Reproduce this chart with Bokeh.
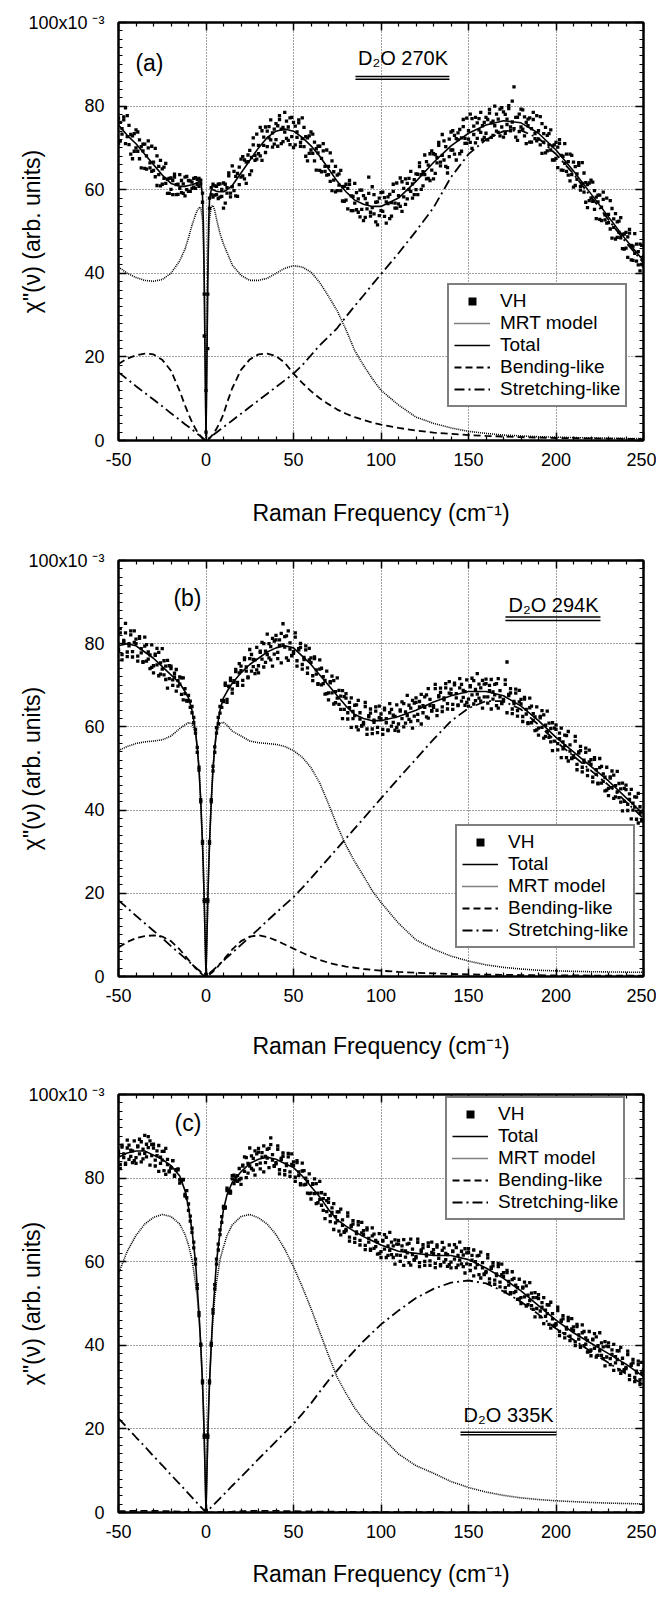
from bokeh.plotting import figure
from bokeh.models import Legend, LegendItem, Label, FixedTicker, LinearAxis, Range1d
from bokeh.layouts import column
from bokeh.embed import file_html
from bokeh.resources import INLINE

FONT = "Liberation Sans"

# ---------------- data ----------------
X_TICKS = [-50, 0, 50, 100, 150, 200, 250]
X_TICK_LABELS = ["-50", "0", "50", "100", "150", "200", "250"]
X_MINOR = [-40, -30, -20, -10, 10, 20, 30, 40, 60, 70, 80, 90, 110, 120, 130, 140,
           160, 170, 180, 190, 210, 220, 230, 240]
Y_TICKS = [0, 20, 40, 60, 80, 100]
Y_TICK_LABELS = ["0", "20", "40", "60", "80", "100x10\u00a0\u207b\u00b3"]
Y_MINOR = [2, 4, 6, 8, 10, 12, 14, 16, 18, 22, 24, 26, 28, 30, 32, 34, 36, 38,
           42, 44, 46, 48, 50, 52, 54, 56, 58, 62, 64, 66, 68, 70, 72, 74, 76, 78,
           82, 84, 86, 88, 90, 92, 94, 96, 98]

VH_X = [-50, -49, -48, -47, -46, -45, -44, -43, -42, -41,
        -40, -39, -38, -37, -36, -35, -34, -33, -32, -31,
        -30, -29, -28, -27, -26, -25, -24, -23, -22, -21,
        -20, -19, -18, -17, -16, -15, -14, -13, -12, -11,
        -10, -9, -8, -7, -6, -5, -4, -3, -2, -1,
        0, 1, 2, 3, 4, 5, 6, 7, 8, 9,
        10, 11, 12, 13, 14, 15, 16, 17, 18, 19,
        20, 21, 22, 23, 24, 25, 26, 27, 28, 29,
        30, 31, 32, 33, 34, 35, 36, 37, 38, 39,
        40, 41, 42, 43, 44, 45, 46, 47, 48, 49,
        50, 51, 52, 53, 54, 55, 56, 57, 58, 59,
        60, 61, 62, 63, 64, 65, 66, 67, 68, 69,
        70, 71, 72, 73, 74, 75, 76, 77, 78, 79,
        80, 81, 82, 83, 84, 85, 86, 87, 88, 89,
        90, 91, 92, 93, 94, 95, 96, 97, 98, 99,
        100, 101, 102, 103, 104, 105, 106, 107, 108, 109,
        110, 111, 112, 113, 114, 115, 116, 117, 118, 119,
        120, 121, 122, 123, 124, 125, 126, 127, 128, 129,
        130, 131, 132, 133, 134, 135, 136, 137, 138, 139,
        140, 141, 142, 143, 144, 145, 146, 147, 148, 149,
        150, 151, 152, 153, 154, 155, 156, 157, 158, 159,
        160, 161, 162, 163, 164, 165, 166, 167, 168, 169,
        170, 171, 172, 173, 174, 175, 176, 177, 178, 179,
        180, 181, 182, 183, 184, 185, 186, 187, 188, 189,
        190, 191, 192, 193, 194, 195, 196, 197, 198, 199,
        200, 201, 202, 203, 204, 205, 206, 207, 208, 209,
        210, 211, 212, 213, 214, 215, 216, 217, 218, 219,
        220, 221, 222, 223, 224, 225, 226, 227, 228, 229,
        230, 231, 232, 233, 234, 235, 236, 237, 238, 239,
        240, 241, 242, 243, 244, 245, 246, 247, 248, 249,
        250]

VH_A = [77.1, 71.6, 74.6, 77.4, 79.6, 72.7, 75.4, 68.5, 72.9, 69.2,
        70.0, 73.8, 67.4, 70.3, 70.9, 65.1, 68.1, 70.0, 65.2, 70.4,
        66.6, 63.1, 68.1, 63.6, 60.9, 65.0, 65.4, 61.5, 62.5, 59.1,
        60.1, 62.2, 63.7, 58.8, 61.3, 60.3, 62.2, 59.1, 63.0, 60.0,
        62.2, 59.6, 61.8, 60.6, 62.9, 61.3, 62.7, 62.3, 57.0, 35.0,
        2.0, 35.0, 58.0, 60.5, 58.2, 60.9, 58.8, 61.3, 58.2, 60.1,
        61.6, 56.8, 60.5, 64.0, 59.2, 60.7, 64.4, 58.5, 63.9, 61.2,
        63.0, 67.9, 62.6, 66.6, 68.3, 63.6, 67.7, 70.7, 67.0, 73.3,
        70.6, 68.1, 74.1, 70.6, 68.9, 74.0, 75.1, 71.9, 73.6, 70.9,
        72.0, 75.3, 77.7, 71.0, 74.9, 73.8, 76.4, 71.8, 77.2, 72.7,
        76.1, 70.7, 73.8, 76.7, 71.3, 72.2, 74.9, 68.0, 72.4, 68.7,
        69.5, 73.3, 66.9, 69.8, 70.4, 64.6, 67.5, 69.3, 64.4, 69.5,
        65.6, 62.0, 66.9, 62.3, 59.5, 63.5, 63.8, 59.8, 60.7, 57.2,
        57.5, 60.3, 62.2, 55.0, 58.4, 56.8, 59.3, 54.6, 59.9, 55.3,
        58.6, 53.4, 56.7, 63.0, 54.6, 55.7, 58.8, 52.3, 57.1, 53.8,
        55.0, 59.4, 53.6, 57.1, 58.3, 53.1, 56.9, 59.6, 55.6, 61.6,
        58.6, 56.0, 61.9, 58.3, 56.5, 61.5, 62.7, 59.6, 61.4, 58.8,
        60.0, 63.7, 66.4, 60.1, 64.3, 63.6, 66.7, 62.7, 68.6, 64.7,
        68.6, 63.9, 67.7, 71.3, 66.6, 68.2, 71.7, 65.6, 64.0, 67.9,
        69.5, 74.1, 68.5, 72.2, 73.6, 68.6, 72.4, 75.1, 71.1, 77.1,
        74.1, 71.3, 77.0, 73.2, 71.2, 76.0, 77.0, 73.7, 75.3, 72.5,
        73.5, 76.8, 79.2, 72.5, 76.4, 75.3, 78.1, 73.7, 79.3, 75.0,
        78.6, 73.5, 76.9, 80.1, 75.0, 76.2, 84.6, 72.6, 77.3, 73.9,
        75.0, 79.1, 72.9, 76.1, 76.9, 71.4, 74.6, 76.8, 72.2, 77.7,
        74.1, 70.7, 75.8, 71.4, 68.8, 73.0, 73.4, 69.5, 70.5, 67.1,
        67.5, 70.2, 72.0, 64.7, 68.0, 66.3, 68.5, 63.5, 68.5, 63.6,
        66.6, 61.0, 63.8, 66.5, 60.8, 61.5, 64.0, 57.0, 61.2, 57.4,
        58.0, 61.8, 55.3, 58.2, 58.7, 52.9, 55.8, 57.7, 52.8, 58.0,
        54.1, 50.6, 55.5, 51.0, 48.2, 52.3, 52.5, 48.5, 49.3, 45.8,
        46.0, 48.7, 50.5, 43.2, 46.5, 44.8, 47.0, 42.0, 47.0, 42.1,
        43.9]
VH_A2 = [71.1, 76.1, 73.3, 76.7, 71.0, 77.7, 70.8, 73.2, 67.4, 73.4,
         74.3, 69.2, 71.9, 65.2, 69.3, 70.9, 64.9, 71.7, 66.4, 64.4,
         64.6, 69.9, 61.0, 65.6, 67.0, 61.3, 62.7, 66.3, 59.1, 62.7,
         62.8, 58.8, 63.0, 61.2, 58.9, 63.6, 59.3, 61.4, 58.5, 63.2,
         59.6, 62.1, 60.3, 62.7, 60.3, 62.5, 60.8, 61.4, 59.2, 25.0,
         12.0, 22.0, 55.5, 58.8, 61.3, 58.7, 60.8, 57.9, 61.4, 58.4,
         55.6, 61.3, 59.2, 63.3, 58.3, 65.7, 59.8, 63.2, 58.4, 65.4,
         67.3, 63.3, 67.1, 61.5, 66.7, 69.4, 64.5, 72.4, 68.2, 67.3,
         68.6, 74.9, 67.0, 72.6, 75.0, 70.3, 72.4, 76.7, 70.2, 74.5,
         75.8, 70.4, 76.8, 74.5, 71.5, 78.5, 72.3, 75.0, 70.8, 77.3,
         70.1, 75.2, 72.5, 76.0, 70.4, 77.2, 70.3, 72.7, 66.9, 72.9,
         73.8, 68.7, 71.4, 64.7, 68.8, 70.4, 64.3, 71.0, 65.6, 63.5,
         63.6, 68.8, 59.8, 64.3, 65.6, 59.8, 61.1, 64.6, 57.3, 60.8,
         61.3, 55.4, 61.3, 58.5, 55.0, 61.5, 55.2, 57.8, 53.5, 59.9,
         52.6, 57.9, 55.4, 59.1, 53.7, 60.7, 54.2, 57.0, 51.6, 58.0,
         59.3, 54.8, 58.1, 52.0, 56.7, 58.9, 53.7, 61.3, 56.8, 55.6,
         56.6, 62.8, 54.8, 60.3, 62.6, 57.8, 60.0, 64.4, 58.0, 62.4,
         63.8, 58.8, 65.5, 63.6, 60.9, 68.3, 62.6, 65.9, 62.2, 69.3,
         62.6, 68.4, 66.4, 70.6, 65.7, 73.2, 67.1, 70.3, 65.3, 72.1,
         73.8, 69.5, 73.0, 67.1, 72.0, 74.4, 69.2, 76.8, 72.3, 71.1,
         72.1, 78.1, 69.9, 75.2, 77.3, 72.3, 74.3, 78.5, 71.9, 76.1,
         77.3, 71.9, 78.3, 76.0, 73.0, 80.0, 74.0, 76.9, 72.9, 79.6,
         72.6, 78.0, 75.6, 79.4, 74.1, 81.2, 74.6, 77.3, 71.8, 78.1,
         79.3, 74.5, 77.4, 71.0, 75.3, 77.2, 71.4, 78.5, 73.4, 71.7,
         72.1, 77.5, 68.7, 73.4, 74.9, 69.3, 70.7, 74.3, 67.1, 70.7,
         71.3, 65.3, 71.1, 68.2, 64.6, 71.0, 64.4, 66.7, 62.1, 68.2,
         60.6, 65.5, 62.5, 65.8, 59.9, 66.5, 59.4, 61.7, 55.7, 61.6,
         62.3, 57.2, 59.8, 53.1, 57.1, 58.7, 52.6, 59.4, 54.0, 52.0,
         52.1, 57.4, 48.4, 53.0, 54.3, 48.6, 49.8, 53.3, 45.9, 49.4,
         49.8, 43.8, 49.6, 46.7, 43.1, 49.5, 42.9, 45.2, 40.6, 46.7,
         41.8]

VH_B = [78.6, 82.6, 77.4, 80.5, 84.9, 76.9, 80.0, 82.1, 78.1, 83.1,
        80.0, 77.0, 81.7, 77.8, 75.5, 79.4, 79.8, 76.3, 77.3, 74.3,
        74.7, 77.2, 78.9, 72.3, 75.4, 73.9, 75.9, 71.4, 76.0, 71.6,
        74.0, 70.0, 72.0, 73.8, 69.8, 70.3, 71.8, 66.5, 69.2, 66.2,
        67.6, 64.7, 64.9, 61.0, 59.4, 53.9, 50.3, 42.0, 32.0, 18.0,
        0.5, 18.0, 32.0, 42.0, 50.5, 53.9, 59.8, 60.8, 64.9, 64.7,
        66.3, 70.0, 66.6, 69.7, 71.1, 68.1, 71.1, 73.3, 70.7, 75.2,
        73.5, 71.2, 76.6, 73.4, 71.8, 76.4, 77.4, 74.5, 76.1, 73.7,
        74.7, 77.9, 80.3, 74.4, 78.2, 77.4, 80.0, 76.1, 81.3, 77.5,
        80.9, 76.4, 79.6, 82.5, 84.8, 79.2, 81.9, 76.0, 80.2, 77.1,
        78.1, 81.6, 75.9, 78.5, 79.1, 73.9, 76.7, 78.5, 74.2, 78.9,
        75.5, 72.3, 76.8, 72.7, 70.2, 73.9, 74.1, 70.4, 71.2, 68.0,
        68.2, 70.6, 72.2, 65.5, 68.5, 66.9, 68.8, 64.2, 68.7, 64.2,
        66.9, 61.9, 64.6, 67.0, 62.0, 62.7, 65.3, 59.3, 63.4, 60.2,
        61.1, 64.9, 59.5, 62.4, 63.3, 58.4, 61.6, 63.8, 59.9, 65.0,
        62.0, 59.4, 64.5, 61.0, 59.1, 63.4, 64.2, 61.1, 62.5, 59.9,
        60.7, 63.8, 66.0, 60.0, 63.6, 62.7, 65.2, 61.3, 66.4, 62.6,
        65.9, 61.5, 64.8, 67.8, 63.4, 64.7, 67.7, 62.1, 66.6, 63.8,
        65.1, 69.2, 64.0, 67.2, 68.3, 63.7, 67.0, 69.4, 65.6, 70.9,
        68.0, 65.4, 70.5, 67.0, 65.1, 69.4, 70.2, 67.1, 68.5, 65.9,
        66.7, 69.6, 71.7, 65.5, 69.0, 67.9, 70.3, 66.2, 71.2, 67.2,
        70.4, 65.7, 68.7, 71.4, 66.7, 67.7, 70.4, 64.5, 68.7, 65.6,
        66.6, 70.2, 75.6, 67.5, 68.2, 63.2, 66.1, 68.1, 63.9, 68.8,
        65.5, 62.5, 67.1, 63.1, 60.8, 64.6, 65.0, 61.5, 62.4, 59.3,
        59.7, 62.2, 63.9, 57.3, 60.4, 58.9, 60.9, 56.4, 61.0, 56.6,
        59.4, 54.5, 57.2, 59.7, 54.7, 55.5, 57.9, 51.8, 55.7, 52.4,
        53.1, 56.6, 51.0, 53.7, 54.3, 49.2, 52.0, 53.9, 49.6, 54.4,
        51.0, 47.9, 52.6, 48.6, 46.3, 50.2, 50.5, 46.9, 47.9, 44.8,
        45.2, 47.7, 49.4, 42.8, 45.9, 44.4, 46.4, 41.9, 46.5, 42.1,
        44.9, 39.9, 42.6, 45.0, 40.0, 40.7, 43.1, 36.9, 40.8, 37.4,
        39.8]
VH_B2 = [78.2, 83.6, 76.1, 80.8, 82.6, 78.0, 79.5, 83.1, 76.8, 80.3,
         81.1, 75.8, 81.3, 78.8, 75.7, 81.6, 75.8, 78.0, 74.0, 79.7,
         73.0, 77.5, 74.9, 77.9, 72.7, 78.8, 72.5, 74.6, 69.3, 74.7,
         74.6, 71.3, 72.9, 68.6, 71.1, 72.0, 67.8, 71.8, 68.0, 66.4,
         66.2, 66.2, 63.4, 62.3, 58.5, 55.1, 49.6, 42.5, 32.5, 18.5,
         0.5, 18.5, 32.5, 42.5, 49.4, 55.2, 58.5, 62.3, 63.3, 66.4,
         66.1, 70.5, 65.9, 69.8, 71.7, 69.1, 70.7, 73.8, 70.0, 73.0,
         74.6, 70.0, 76.2, 74.4, 72.0, 78.6, 73.4, 76.2, 72.8, 79.1,
         73.0, 78.2, 76.3, 80.0, 75.5, 82.3, 76.6, 79.3, 74.6, 80.6,
         82.0, 77.9, 80.9, 75.4, 79.7, 81.7, 76.6, 83.1, 78.7, 77.2,
         77.7, 82.6, 74.6, 78.8, 80.1, 75.0, 76.2, 79.5, 72.9, 76.1,
         76.6, 71.1, 76.4, 73.7, 70.4, 76.1, 70.1, 72.1, 67.9, 73.4,
         66.5, 70.9, 68.2, 71.1, 65.8, 71.8, 65.4, 67.4, 62.0, 67.3,
         68.0, 63.4, 65.9, 59.9, 63.7, 65.2, 60.0, 66.4, 61.9, 60.3,
         60.7, 65.9, 58.2, 62.7, 64.3, 59.5, 61.1, 64.8, 58.6, 62.2,
         63.1, 58.2, 64.1, 62.0, 59.3, 65.6, 60.2, 62.8, 59.2, 65.3,
         59.0, 64.1, 62.0, 65.6, 60.9, 67.6, 61.8, 64.5, 59.7, 65.7,
         67.0, 63.0, 66.1, 60.7, 65.1, 67.2, 62.4, 69.2, 65.1, 63.9,
         64.7, 70.2, 62.7, 67.5, 69.3, 64.8, 66.5, 70.4, 64.3, 68.1,
         69.1, 64.2, 70.1, 68.0, 65.3, 71.6, 66.2, 68.8, 65.2, 71.3,
         65.0, 69.9, 67.7, 71.1, 66.3, 72.8, 66.9, 69.4, 64.5, 70.3,
         71.5, 67.2, 70.0, 64.3, 68.4, 70.2, 65.1, 71.6, 67.2, 65.7,
         66.2, 71.3, 63.4, 67.8, 69.2, 64.3, 65.6, 69.1, 62.6, 66.0,
         66.6, 61.3, 66.7, 64.2, 61.0, 66.9, 61.0, 63.2, 59.1, 64.8,
         58.0, 62.5, 59.9, 62.9, 57.7, 63.8, 57.5, 59.6, 54.3, 59.7,
         60.5, 56.0, 58.5, 52.6, 56.4, 58.0, 52.6, 58.9, 54.2, 52.5,
         52.7, 57.7, 49.7, 54.0, 55.3, 50.3, 51.5, 54.9, 48.3, 51.6,
         52.1, 46.8, 52.2, 49.7, 46.5, 52.4, 46.5, 48.7, 44.6, 50.3,
         43.5, 48.0, 45.4, 48.4, 43.2, 49.3, 43.0, 45.1, 39.8, 45.2,
         46.0, 41.4, 43.9, 37.9, 41.7, 43.2, 37.8, 44.0, 39.3, 37.5,
         37.6]

VH_C = [85.5, 83.3, 87.9, 84.9, 83.3, 87.2, 87.9, 85.2, 86.5, 84.2,
        84.9, 87.5, 89.3, 83.9, 86.9, 85.9, 88.1, 89.9, 88.9, 85.4,
        87.2, 82.9, 85.4, 87.8, 83.5, 84.3, 86.4, 80.9, 84.5, 81.5,
        82.5, 84.2, 80.7, 81.9, 82.0, 78.8, 79.6, 79.6, 76.1, 77.0,
        73.8, 69.7, 68.0, 63.3, 60.6, 53.6, 47.8, 40.0, 31.0, 18.0,
        0.5, 18.0, 31.0, 40.0, 47.7, 54.5, 59.4, 64.2, 66.5, 70.8,
        72.8, 73.1, 77.6, 76.5, 76.4, 79.8, 80.7, 79.4, 80.6, 79.6,
        79.9, 82.9, 85.1, 80.1, 83.5, 82.9, 85.3, 81.9, 86.5, 83.2,
        86.2, 82.2, 85.0, 87.7, 83.7, 84.8, 87.1, 89.6, 85.6, 82.8,
        83.7, 86.9, 82.0, 84.5, 85.2, 80.8, 83.4, 85.1, 81.5, 85.8,
        83.0, 80.2, 84.2, 80.6, 78.4, 81.7, 81.8, 78.5, 79.2, 76.3,
        76.4, 78.5, 79.8, 73.9, 76.4, 74.9, 76.5, 72.3, 76.1, 72.0,
        74.2, 69.6, 71.8, 73.9, 69.3, 69.8, 71.9, 66.4, 70.0, 67.0,
        67.7, 70.9, 65.9, 68.4, 69.0, 64.6, 67.1, 68.8, 65.1, 69.4,
        66.5, 63.9, 68.1, 64.7, 62.7, 66.2, 66.6, 63.6, 64.6, 62.0,
        62.4, 64.9, 66.5, 61.0, 63.8, 62.7, 64.7, 61.0, 65.2, 61.6,
        64.2, 60.1, 62.7, 65.3, 61.1, 62.1, 64.4, 59.2, 63.0, 60.3,
        61.2, 64.6, 59.8, 62.5, 63.3, 59.1, 61.8, 63.7, 60.2, 64.7,
        62.0, 59.6, 64.0, 60.8, 59.0, 62.7, 63.3, 60.5, 61.7, 59.3,
        59.9, 62.4, 64.1, 58.6, 61.5, 60.4, 62.5, 58.8, 63.1, 59.5,
        62.2, 57.9, 60.4, 62.8, 58.5, 59.3, 61.5, 56.1, 59.8, 56.9,
        57.7, 60.9, 55.9, 58.4, 59.0, 54.6, 57.1, 58.8, 55.1, 59.4,
        56.5, 53.8, 57.9, 54.4, 52.3, 55.7, 56.0, 52.9, 53.8, 51.1,
        51.4, 53.7, 55.1, 49.4, 52.0, 50.7, 52.5, 48.6, 52.6, 48.8,
        51.2, 46.8, 49.1, 51.4, 46.9, 47.6, 49.6, 44.1, 47.6, 44.6,
        45.2, 48.3, 43.3, 45.7, 46.3, 41.8, 44.3, 45.9, 42.2, 46.4,
        43.5, 40.8, 45.0, 41.5, 39.5, 43.0, 43.3, 40.3, 41.2, 38.5,
        38.9, 41.3, 42.8, 37.2, 39.9, 38.7, 40.6, 36.8, 40.9, 37.2,
        39.7, 35.4, 37.8, 40.2, 35.8, 36.6, 38.7, 33.3, 36.9, 34.0,
        34.7, 37.8, 32.8, 35.2, 35.8, 31.3, 33.8, 35.4, 31.7, 35.9,
        33.0]
VH_C2 = [86.4, 82.3, 87.4, 85.8, 83.6, 89.1, 84.5, 86.7, 83.7, 88.9,
         83.5, 87.7, 85.8, 88.7, 84.6, 90.2, 85.1, 87.3, 83.1, 88.0,
         88.1, 84.3, 86.5, 81.6, 85.0, 86.4, 81.8, 87.1, 83.2, 81.7,
         82.4, 84.2, 80.4, 82.0, 82.2, 79.6, 79.3, 79.7, 75.7, 75.3,
         72.3, 70.9, 67.0, 64.7, 59.4, 54.5, 47.1, 40.3, 31.5, 18.5,
         0.5, 18.5, 31.5, 40.5, 48.5, 53.5, 60.6, 62.8, 67.6, 69.4,
         73.2, 72.8, 77.0, 77.1, 76.9, 80.6, 78.7, 80.3, 79.2, 82.3,
         78.5, 83.1, 81.6, 84.9, 81.2, 87.2, 82.3, 84.7, 80.7, 85.8,
         87.1, 83.6, 86.1, 81.5, 85.2, 86.9, 82.5, 88.0, 84.3, 83.0,
         83.4, 87.7, 81.0, 84.8, 86.0, 81.8, 83.0, 85.9, 80.4, 83.3,
         83.9, 79.2, 83.7, 81.5, 78.7, 83.6, 78.4, 80.0, 76.4, 81.0,
         75.0, 78.7, 76.3, 78.7, 74.1, 79.2, 73.5, 75.1, 70.3, 74.6,
         75.1, 71.0, 72.9, 67.7, 70.8, 71.9, 67.3, 72.6, 68.7, 67.2,
         67.4, 71.7, 64.9, 68.7, 69.8, 65.6, 66.7, 69.6, 64.0, 66.9,
         67.4, 62.9, 67.6, 65.6, 63.0, 68.1, 63.2, 65.1, 61.8, 66.7,
         61.0, 65.1, 63.0, 65.8, 61.5, 67.0, 61.7, 63.8, 59.4, 64.2,
         65.1, 61.5, 63.8, 59.1, 62.6, 64.2, 59.8, 65.4, 61.7, 60.5,
         60.9, 65.4, 58.8, 62.8, 64.1, 60.1, 61.4, 64.5, 59.1, 62.2,
         62.9, 58.6, 63.5, 61.7, 59.3, 64.6, 59.9, 62.0, 58.9, 64.0,
         58.5, 62.6, 60.6, 63.4, 59.2, 64.7, 59.5, 61.6, 57.3, 62.1,
         63.1, 59.3, 61.5, 56.6, 60.0, 61.4, 56.9, 62.3, 58.5, 57.1,
         57.4, 61.7, 54.9, 58.7, 59.8, 55.6, 56.7, 59.6, 54.0, 56.9,
         57.4, 52.8, 57.4, 55.3, 52.6, 57.6, 52.6, 54.4, 51.0, 55.8,
         50.0, 53.9, 51.6, 54.2, 49.7, 55.0, 49.5, 51.4, 46.8, 51.4,
         52.1, 48.2, 50.2, 45.2, 48.4, 49.7, 45.0, 50.3, 46.3, 44.8,
         44.9, 49.1, 42.3, 46.0, 47.1, 42.8, 43.9, 46.7, 41.1, 43.9,
         44.4, 39.9, 44.5, 42.5, 39.8, 44.9, 39.9, 41.8, 38.4, 43.3,
         37.5, 41.5, 39.3, 42.0, 37.6, 43.0, 37.6, 39.6, 35.1, 39.8,
         40.6, 36.8, 38.9, 34.0, 37.3, 38.7, 34.1, 39.5, 35.6, 34.2,
         34.4, 38.6, 31.8, 35.5, 36.6, 32.3, 33.4, 36.2, 30.6, 33.4,
         34.1]

CURVE_X = [-50, -45, -40, -35, -30, -25, -20, -15, -12,
           -10, -8, -6, -5, -4, -3, -2, -1.5, -1, -0.5,
           0,
           0.5, 1, 1.5, 2, 3, 4, 5, 6, 8, 10,
           12, 15, 20, 25, 30, 35, 40, 45, 50,
           55, 60, 65, 70, 75, 80, 85, 90, 95, 100,
           110, 120, 130, 140, 150, 160, 170, 180, 190, 200, 210, 220, 230, 240, 250]

MRT_A = [41.5, 40.0, 39.0, 38.3, 38.1, 38.5, 40.0, 43.0, 45.8,
         48.5, 51.5, 54.0, 55.0, 55.7, 55.8, 53.0, 48.0, 38.0, 20.0,
         0.0,
         20.0, 38.0, 48.0, 53.0, 56.0, 56.2, 55.0, 53.0, 49.5, 47.0,
         45.0, 42.0, 39.5, 38.3, 38.3, 38.8, 40.0, 41.2, 41.8,
         41.5, 40.3, 37.8, 34.5, 31.0, 26.5, 21.5, 18.0, 14.8, 12.0,
         8.5, 5.6, 4.1, 3.0, 2.2, 1.7, 1.3, 1.1, 0.9, 0.8, 0.7, 0.6, 0.55, 0.5, 0.45]
BEND_A = [18.3, 19.6, 20.4, 20.8, 20.6, 19.3, 16.7, 11.8, 8.4,
          6.3, 4.4, 2.8, 2.1, 1.5, 1.0, 0.5, 0.3, 0.15, 0.05,
          0.0,
          0.05, 0.15, 0.3, 0.5, 1.0, 1.5, 2.1, 2.8, 4.4, 6.3,
          9.0, 12.5, 16.9, 19.4, 20.6, 20.8, 20.2, 18.6, 16.0,
          13.8, 11.8, 10.1, 8.7, 7.4, 6.4, 5.6, 4.9, 4.3, 3.8,
          3.0, 2.4, 1.9, 1.6, 1.3, 1.1, 0.95, 0.8, 0.7, 0.6, 0.55, 0.5, 0.45, 0.4, 0.35]
STRETCH_A = [16.3, 14.7, 13.0, 11.4, 9.8, 8.2, 6.5, 4.9, 3.9,
             3.3, 2.6, 2.0, 1.6, 1.3, 1.0, 0.65, 0.5, 0.33, 0.16,
             0.0,
             0.16, 0.32, 0.48, 0.64, 0.96, 1.28, 1.6, 1.92, 2.56, 3.2,
             3.84, 4.8, 6.4, 8.0, 9.6, 11.2, 12.8, 14.4, 16.0,
             18.0, 20.4, 22.8, 24.8, 26.9, 29.6, 32.2, 34.7, 37.3, 39.8,
             44.8, 50.1, 55.7, 63.0, 68.5, 72.0, 74.0, 74.2, 72.3, 68.5, 63.8, 58.3, 52.8, 47.4, 42.5]
TOTAL_A = [75.5, 73.0, 71.0, 68.5, 66.0, 63.5, 61.5, 60.8, 60.8,
           61.0, 61.2, 61.5, 61.7, 61.9, 62.0, 58.5, 52.0, 38.0, 18.0,
           1.0,
           18.0, 38.0, 52.0, 57.5, 60.0, 60.0, 59.8, 59.6, 59.5, 59.5,
           60.0, 61.0, 64.0, 67.0, 70.0, 72.5, 74.0, 74.5, 74.0,
           72.5, 70.5, 68.0, 65.0, 62.0, 59.5, 57.5, 56.5, 56.0, 56.0,
           58.0, 62.0, 66.5, 70.5, 73.5, 75.5, 76.5, 76.0, 73.5, 69.5, 64.5, 59.0, 53.5, 48.0, 43.0]

MRT_B = [54.3, 55.3, 56.0, 56.4, 56.6, 56.9, 57.8, 59.6, 60.5,
         61.0, 60.8, 58.5, 55.0, 50.0, 42.0, 32.0, 25.5, 18.0, 9.0,
         0.0,
         9.0, 18.0, 25.5, 32.0, 42.0, 50.0, 55.0, 58.5, 60.8, 61.1,
         60.4, 59.0, 57.8, 56.6, 56.2, 56.0, 55.8, 55.3, 54.3,
         52.7, 50.2, 46.5, 41.5, 36.2, 31.5, 27.6, 24.2, 20.6, 17.8,
         12.8, 8.8, 6.6, 4.9, 3.7, 2.8, 2.2, 1.8, 1.5, 1.35, 1.25, 1.15, 1.1, 1.05, 1.0]
BEND_B = [7.0, 8.3, 9.2, 9.7, 9.9, 9.6, 8.5, 6.5, 5.0,
          4.0, 3.0, 2.0, 1.6, 1.2, 0.8, 0.45, 0.3, 0.15, 0.05,
          0.0,
          0.05, 0.15, 0.3, 0.45, 0.8, 1.2, 1.6, 2.0, 3.0, 4.0,
          5.0, 6.5, 8.5, 9.6, 9.9, 9.5, 8.7, 7.7, 6.7,
          5.7, 4.8, 4.0, 3.3, 2.8, 2.4, 2.1, 1.8, 1.6, 1.4,
          1.1, 0.9, 0.75, 0.6, 0.5, 0.45, 0.4, 0.35, 0.3, 0.28, 0.25, 0.23, 0.2, 0.2, 0.18]
STRETCH_B = [18.3, 16.5, 14.6, 12.8, 11.0, 9.2, 7.3, 5.5, 4.4,
             3.7, 2.9, 2.2, 1.8, 1.5, 1.1, 0.73, 0.55, 0.37, 0.18,
             0.0,
             0.19, 0.38, 0.57, 0.76, 1.15, 1.5, 1.9, 2.3, 3.1, 3.8,
             4.6, 5.7, 7.6, 9.5, 11.4, 13.4, 15.3, 17.2, 19.1,
             21.3, 23.6, 26.0, 28.4, 30.8, 33.2, 35.6, 38.0, 40.4, 42.8,
             47.6, 52.3, 57.0, 61.4, 64.5, 66.2, 66.2, 64.2, 60.5, 56.5, 53.0, 49.5, 46.0, 42.0, 38.0]
TOTAL_B = [79.5, 80.0, 79.5, 78.0, 76.5, 74.5, 72.5, 70.5, 68.5,
           67.0, 64.0, 59.0, 55.0, 50.0, 42.0, 32.0, 25.5, 18.0, 9.0,
           0.5,
           9.0, 18.0, 25.5, 32.0, 42.0, 50.0, 55.0, 59.0, 64.0, 67.0,
           68.5, 70.5, 73.0, 75.0, 76.5, 78.0, 79.0, 79.5, 79.0,
           77.0, 75.0, 72.5, 70.0, 67.5, 65.0, 63.0, 62.0, 61.5, 61.5,
           62.5, 64.0, 66.0, 67.5, 68.5, 68.5, 67.5, 65.0, 61.5, 57.5, 54.0, 50.5, 47.0, 43.0, 39.0]

MRT_C = [57.2, 62.5, 66.3, 69.0, 70.6, 71.3, 70.8, 69.0, 66.5,
         64.0, 60.5, 55.0, 51.5, 47.0, 40.0, 31.0, 25.0, 17.5, 9.0,
         0.0,
         9.0, 17.5, 25.0, 31.0, 40.0, 46.5, 51.5, 55.0, 60.5, 63.5,
         66.3, 68.8, 70.8, 71.3, 70.5, 69.0, 66.5, 63.0, 58.8,
         54.0, 48.8, 43.2, 37.6, 32.3, 28.5, 25.0, 22.2, 20.0, 18.2,
         14.0, 11.2, 9.4, 7.4, 6.0, 4.9, 4.1, 3.5, 3.1, 2.8, 2.6, 2.4, 2.25, 2.15, 2.05]
BEND_C = [0.3, 0.35, 0.4, 0.4, 0.4, 0.35, 0.3, 0.2, 0.15,
          0.12, 0.08, 0.05, 0.04, 0.03, 0.02, 0.01, 0.01, 0.0, 0.0,
          0.0,
          0.0, 0.0, 0.01, 0.01, 0.02, 0.03, 0.04, 0.05, 0.08, 0.12,
          0.15, 0.2, 0.3, 0.35, 0.4, 0.4, 0.38, 0.35, 0.3,
          0.27, 0.24, 0.21, 0.19, 0.17, 0.15, 0.13, 0.12, 0.11, 0.1,
          0.08, 0.07, 0.06, 0.05, 0.05, 0.04, 0.04, 0.03, 0.03, 0.03, 0.02, 0.02, 0.02, 0.02, 0.02]
STRETCH_C = [22.5, 20.3, 18.0, 15.8, 13.5, 11.3, 9.0, 6.8, 5.4,
             4.5, 3.6, 2.7, 2.25, 1.8, 1.35, 0.9, 0.68, 0.45, 0.23,
             0.0,
             0.21, 0.42, 0.64, 0.85, 1.3, 1.7, 2.1, 2.55, 3.4, 4.25,
             5.1, 6.4, 8.5, 10.6, 12.8, 14.9, 17.0, 19.1, 21.2,
             23.6, 26.1, 28.9, 31.6, 34.0, 36.5, 38.8, 41.0, 43.0, 45.0,
             48.3, 51.3, 53.5, 55.0, 55.5, 54.8, 52.9, 50.4, 47.4, 44.0, 41.3, 38.5, 35.8, 33.2, 30.6]
TOTAL_C = [85.0, 86.0, 86.5, 86.5, 85.5, 84.5, 83.0, 80.5, 77.0,
           73.0, 67.5, 60.0, 54.0, 47.5, 40.0, 31.0, 25.0, 18.0, 9.0,
           0.3,
           9.0, 18.0, 25.0, 31.0, 40.0, 48.0, 54.0, 60.0, 67.0, 72.5,
           76.0, 79.0, 81.5, 83.5, 84.5, 85.0, 84.5, 83.5, 82.5,
           80.5, 78.0, 75.5, 72.5, 70.0, 68.5, 67.2, 66.0, 65.0, 64.0,
           62.5, 62.0, 61.5, 61.5, 60.5, 58.5, 56.0, 53.0, 49.5, 46.0, 43.0, 40.5, 38.0, 35.5, 32.5]


def style_axis(ax, ticks, minor, labels, show_labels=True):
    ax.ticker = FixedTicker(ticks=ticks, minor_ticks=minor)
    ax.major_tick_in = 8
    ax.major_tick_out = 0
    ax.minor_tick_in = 4
    ax.minor_tick_out = 0
    ax.major_tick_line_width = 1.5
    ax.minor_tick_line_width = 1.2
    ax.major_tick_line_color = "black"
    ax.minor_tick_line_color = "black"
    ax.axis_line_color = "black"
    ax.axis_line_width = 2
    if show_labels:
        ax.major_label_overrides = {t: l for t, l in zip(ticks, labels)}
        ax.major_label_text_font = FONT
        ax.major_label_text_font_size = "18px"
        ax.major_label_text_color = "black"
    else:
        ax.major_label_text_font_size = "0px"
        ax.major_label_standoff = 0
        ax.major_label_text_color = None


def make_panel(height, border_top, border_bottom, xlabel_standoff, vh, vh2, mrt, bend,
               stretch, total, letter, letter_xy, tag, tag_xy, ul_x, ul_y, leg_loc,
               legend_order):
    p = figure(width=656, height=height, x_range=Range1d(-50, 250), y_range=Range1d(0, 100),
               output_backend="svg", toolbar_location=None,
               min_border_left=118, min_border_right=13, min_border_top=border_top,
               min_border_bottom=border_bottom)
    p.background_fill_color = "white"
    p.border_fill_color = "white"
    p.outline_line_color = "black"
    p.outline_line_width = 2

    xa = p.xaxis[0]
    ya = p.yaxis[0]
    style_axis(xa, X_TICKS, X_MINOR, X_TICK_LABELS)
    style_axis(ya, Y_TICKS, Y_MINOR, Y_TICK_LABELS)
    xa.major_label_standoff = 12
    ya.major_label_standoff = 14
    xa.axis_label = "Raman Frequency (cm\u207b\u00b9)"
    ya.axis_label = "\u03c7\"(\u03bd) (arb. units)"
    for ax in (xa, ya):
        ax.axis_label_text_font = FONT
        ax.axis_label_text_font_size = "23px"
        ax.axis_label_text_font_style = "normal"
        ax.axis_label_text_color = "black"
    xa.axis_label_standoff = xlabel_standoff
    ya.axis_label_standoff = -20

    top = LinearAxis()
    style_axis(top, X_TICKS, X_MINOR, X_TICK_LABELS, show_labels=False)
    p.add_layout(top, "above")
    right = LinearAxis()
    style_axis(right, Y_TICKS, Y_MINOR, Y_TICK_LABELS, show_labels=False)
    p.add_layout(right, "right")

    p.xgrid.ticker = FixedTicker(ticks=X_TICKS)
    p.ygrid.ticker = FixedTicker(ticks=Y_TICKS)
    p.grid.grid_line_color = "#444444"
    p.grid.grid_line_dash = "1 2"
    p.grid.grid_line_width = 1

    r_vh = p.scatter(VH_X, vh, marker="square", size=3.3, color="black", line_width=0)
    p.scatter(VH_X, vh2, marker="square", size=3.3, color="black", line_width=0)
    r_mrt = p.line(CURVE_X, mrt, line_color="black", line_width=1.6, line_dash="1 1")
    r_bend = p.line(CURVE_X, bend, line_color="black", line_width=1.8, line_dash="7 4")
    r_str = p.line(CURVE_X, stretch, line_color="black", line_width=1.8, line_dash="10 4 2 4")
    r_tot = p.line(CURVE_X, total, line_color="black", line_width=1.6)

    rmap = {"VH": r_vh, "MRT model": r_mrt, "Total": r_tot,
            "Bending-like": r_bend, "Stretching-like": r_str}
    items = [LegendItem(label=n, renderers=[rmap[n]]) for n in legend_order]
    leg = Legend(items=items, location=leg_loc)
    leg.border_line_color = "black"
    leg.border_line_width = 2
    leg.background_fill_color = "white"
    leg.background_fill_alpha = 1
    leg.label_text_font = FONT
    leg.label_text_font_size = "19px"
    leg.label_text_line_height = 0.9
    leg.label_text_color = "black"
    leg.glyph_width = 36
    leg.glyph_height = 20
    leg.label_height = 20
    leg.label_standoff = 10
    leg.spacing = 0
    leg.padding = 5
    leg.margin = 0
    p.add_layout(leg)

    p.add_layout(Label(x=letter_xy[0], y=letter_xy[1], text=letter, text_font=FONT,
                       text_font_size="23px", text_align="center", text_baseline="middle",
                       text_color="black"))
    p.add_layout(Label(x=tag_xy[0], y=tag_xy[1], text=tag, text_font=FONT,
                       text_font_size="20px", text_align="center", text_baseline="middle",
                       text_color="black"))
    p.segment(x0=[ul_x[0], ul_x[0]], y0=[ul_y[0], ul_y[1]], x1=[ul_x[1], ul_x[1]],
              y1=[ul_y[0], ul_y[1]], line_color="black", line_width=1.5)
    return p


ORDER_A = ["VH", "MRT model", "Total", "Bending-like", "Stretching-like"]
ORDER_BC = ["VH", "Total", "MRT model", "Bending-like", "Stretching-like"]

pa = make_panel(546, 22, 106, 31, VH_A, VH_A2, MRT_A, BEND_A, STRETCH_A, TOTAL_A,
                "(a)", (-32.3, 90.4), "D\u2082O 270K", (112.6, 91.4),
                (85.4, 139.1), (87.1, 86.4), (329, 33), ORDER_A)
pb = make_panel(534, 14, 104, 28, VH_B, VH_B2, MRT_B, BEND_B, STRETCH_B, TOTAL_B,
                "(b)", (-10.6, 90.9), "D\u2082O 294K", (198.6, 89.4),
                (171.1, 225.4), (86.4, 85.6), (337, 28), ORDER_BC)
pc = make_panel(516, 14, 84, 20, VH_C, VH_C2, MRT_C, BEND_C, STRETCH_C, TOTAL_C,
                "(c)", (-10.3, 93.1), "D\u2082O 335K", (172.9, 23.4),
                (145.4, 200.3), (19.2, 18.6), (327, 292), ORDER_BC)

layout = column(pa, pb, pc)
open("out.html", "w").write(file_html(layout, INLINE))
